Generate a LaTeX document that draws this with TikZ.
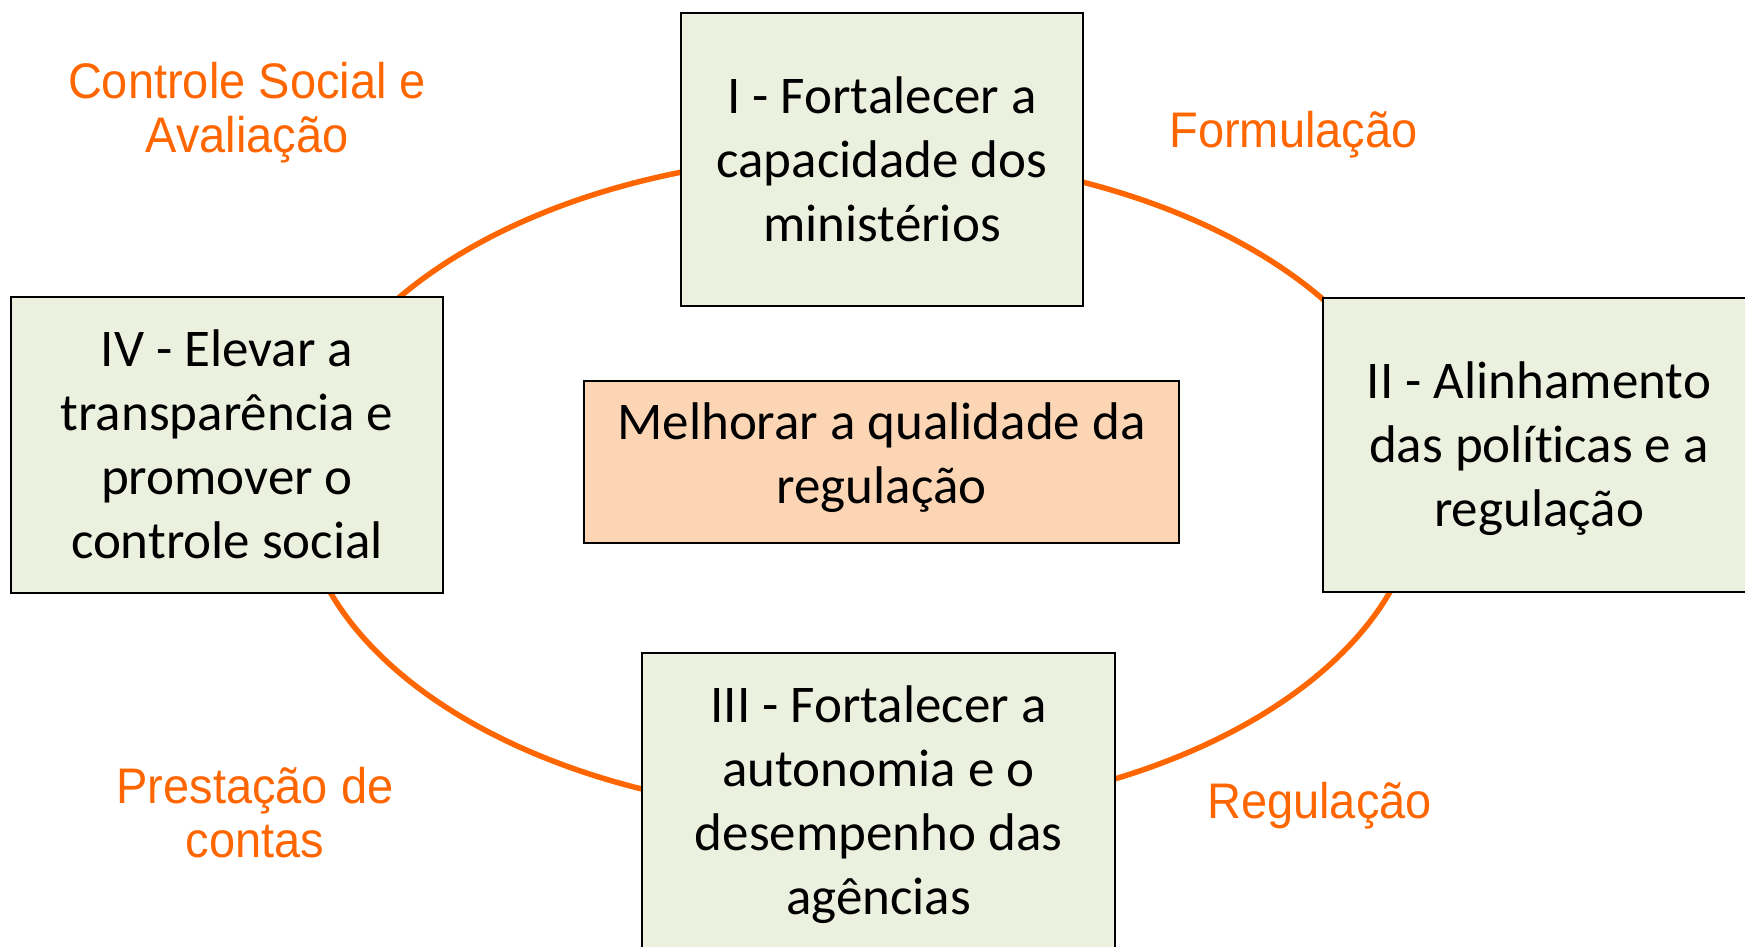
\documentclass[tikz,border=0pt]{standalone}
\usepackage{fontspec}
\setmainfont{Carlito}[Ligatures={NoCommon}]
\newfontfamily\labelfont[FakeStretch=0.94]{Liberation Sans}
\definecolor{cycorange}{HTML}{FF6600}
\definecolor{boxgreen}{HTML}{EBF1DE}
\definecolor{peach}{HTML}{FCD5B5}
\newcommand\topst{\rule{0pt}{51pt}}
\newcommand\botst{\rule[-16pt]{0pt}{16pt}}
\newcommand\ctopst{\rule{0pt}{40pt}}
\newcommand\cbotst{\rule[-21pt]{0pt}{21pt}}
\newcommand\ltopst{\rule{0pt}{40pt}}
\newcommand\lbotst{\rule[-14pt]{0pt}{14pt}}
\begin{document}
\begin{tikzpicture}[x=1pt,y=-1pt,
  goalbox/.style={draw=black, line width=2.4pt, fill=boxgreen, inner sep=0pt, outer sep=0pt,
    align=center, font=\fontsize{53}{64}\selectfont},
  mainbox/.style={goalbox, fill=peach},
  phase/.style={text=cycorange, align=center, inner sep=0pt,
    font=\labelfont\fontsize{50}{54}\selectfont},
  cycleline/.style={draw=cycorange, line width=5.5pt}]
\useasboundingbox (0,0) rectangle (1745,947);
\clip (0,0) rectangle (1745,947);
\path[cycleline] (860,485) ellipse [x radius=560, y radius=330];
\node[goalbox, minimum width=402pt, minimum height=293pt] (g1) at (882,159.5)
  {\topst I - Fortalecer a\\capacidade dos\\ministérios\botst};
\node[goalbox, minimum width=432pt, minimum height=294pt] (g2) at (1539,445)
  {\topst II - Alinhamento\\das políticas e a\\regulação\botst};
\node[goalbox, minimum width=473pt, minimum height=295pt] (g3) at (878.5,800.5)
  {\topst III - Fortalecer a\\autonomia e o\\desempenho das\\agências\botst};
\node[goalbox, minimum width=432pt, minimum height=296pt] (g4) at (227,445)
  {\topst IV - Elevar a\\transparência e\\promover o\\controle social\botst};
\node[mainbox, minimum width=595pt, minimum height=162pt] (goal) at (881.5,462)
  {\ctopst Melhorar a qualidade da\\regulação\cbotst};
\node[phase] (p1) at (247,113) {\ltopst Controle Social e\\Avaliação\lbotst};
\node[phase] (p2) at (1293.5,135) {\ltopst Formulação\lbotst};
\node[phase] (p3) at (255,817) {\ltopst Prestação de\\contas\lbotst};
\node[phase] (p4) at (1319.5,805) {\ltopst Regulação\lbotst};
\end{tikzpicture}
\end{document}
